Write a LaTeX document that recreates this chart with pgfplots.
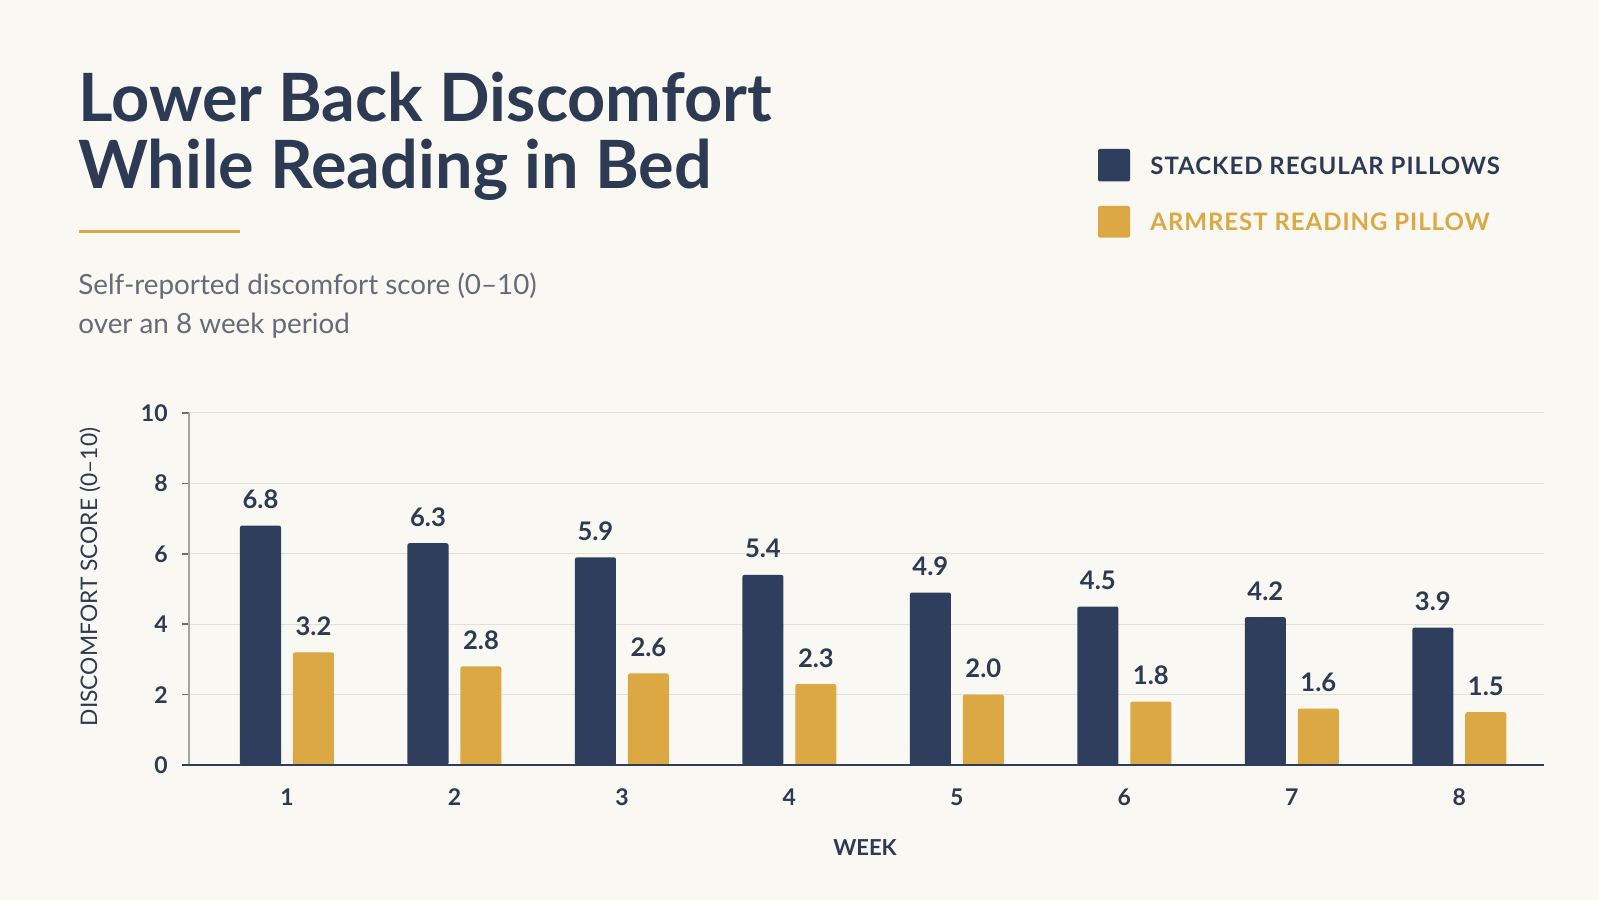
\documentclass[border=0pt]{standalone}
\usepackage{fontspec}
\setmainfont{Lato}
\newfontfamily\legendfont{Lato}[LetterSpace=4.0]
\usepackage{pgfplots}
\pgfplotsset{compat=1.18}

\definecolor{bg}{HTML}{FAF8F2}
\definecolor{navy}{HTML}{2F3E5C}
\definecolor{gold}{HTML}{DBA843}
\definecolor{ink}{HTML}{2D3A54}
\definecolor{subgray}{HTML}{676B78}
\definecolor{gridc}{HTML}{E3E0D8}
\definecolor{axgray}{HTML}{A3A3A3}
\definecolor{tickgray}{HTML}{6E6E6E}

\begin{document}
\begin{tikzpicture}[x=0.5pt,y=0.5pt]
\fill[bg] (0,0) rectangle (1599,900);
\useasboundingbox (0,0) rectangle (1599,900);

% title block
\node[anchor=base west, inner sep=0pt, text=ink, font=\fontsize{33.3}{40}\selectfont\bfseries] at (78,778) {Lower Back Discomfort};
\node[anchor=base west, inner sep=0pt, text=ink, font=\fontsize{33.3}{40}\selectfont\bfseries] at (78,711.3) {While Reading in Bed};
\draw[gold, line width=1.5pt] (78.5,668.5) -- (240,668.5);
\node[anchor=base west, inner sep=0pt, text=subgray, font=\fontsize{13.9}{16}\selectfont] at (78,605.3) {Self-reported discomfort score (0--10)};
\node[anchor=base west, inner sep=0pt, text=subgray, font=\fontsize{13.9}{16}\selectfont] at (78,566.5) {over an 8 week period};

% legend
\fill[navy, rounded corners=1pt] (1098,718.5) rectangle (1130,751);
\node[anchor=west, inner sep=0pt, text=ink, font=\legendfont\fontsize{12}{14}\selectfont\bfseries] at (1150,734) {STACKED REGULAR PILLOWS};
\fill[gold, rounded corners=1pt] (1098,662.3) rectangle (1130,694);
\node[anchor=west, inner sep=0pt, text=gold, font=\legendfont\fontsize{12}{14}\selectfont\bfseries] at (1150,678) {ARMREST READING PILLOW};

% axis titles
\node[rotate=90, inner sep=0pt, text=ink, font=\fontsize{11.4}{13}\selectfont] at (90,323) {DISCOMFORT SCORE (0--10)};
\node[inner sep=0pt, text=ink, font=\fontsize{11}{13}\selectfont\bfseries] at (865,52.5) {WEEK};

\begin{axis}[
  at={(94.5pt,67.5pt)}, anchor=south west,
  scale only axis, width=677.5pt, height=176pt,
  xmin=0.415, xmax=8.506, ymin=0, ymax=10,
  axis lines*=left,
  x axis line style={draw=none},
  y axis line style={axgray, line width=0.6pt},
  ytick={0,2,...,10}, xtick={1,...,8},
  ymajorgrids, grid style={gridc, line width=0.5pt},
  tick align=outside, major tick length=3.5pt,
  ytick style={tickgray, line width=0.75pt},
  xtick style={draw=none},
  /pgf/number format/assume math mode=true,
  yticklabel style={inner sep=0pt, xshift=-7pt, text=ink, font=\fontsize{11.5}{13}\selectfont\bfseries},
  xticklabel style={inner sep=0pt, yshift=-8.25pt, text=ink, font=\fontsize{11.5}{13}\selectfont\bfseries},
  clip=false,
  nodes near coords={\pgfmathprintnumber[fixed,fixed zerofill,precision=1]{\pgfplotspointmeta}},
  nodes near coords style={anchor=base, yshift=8.5pt, inner sep=0pt, text=ink,
    font=\fontsize{12.8}{15}\selectfont\bfseries},
]
% stacked regular pillows
\addplot[ybar, bar width=0.245, bar shift=-0.158, fill=navy, draw=none, rounded corners=1pt,
  every node near coord/.append style={xshift=-13.25pt}]
  coordinates {(1,6.8) (2,6.3) (3,5.9) (4,5.4) (5,4.9) (6,4.5) (7,4.2) (8,3.9)};
% armrest reading pillow
\addplot[ybar, bar width=0.245, bar shift=0.158, fill=gold, draw=none, rounded corners=1pt,
  every node near coord/.append style={xshift=13.25pt}]
  coordinates {(1,3.2) (2,2.8) (3,2.6) (4,2.3) (5,2.0) (6,1.8) (7,1.6) (8,1.5)};
\draw[navy, line width=1.25pt] ([xshift=-3.5pt]rel axis cs:0,0) -- (rel axis cs:1,0);
\end{axis}
\end{tikzpicture}
\end{document}
